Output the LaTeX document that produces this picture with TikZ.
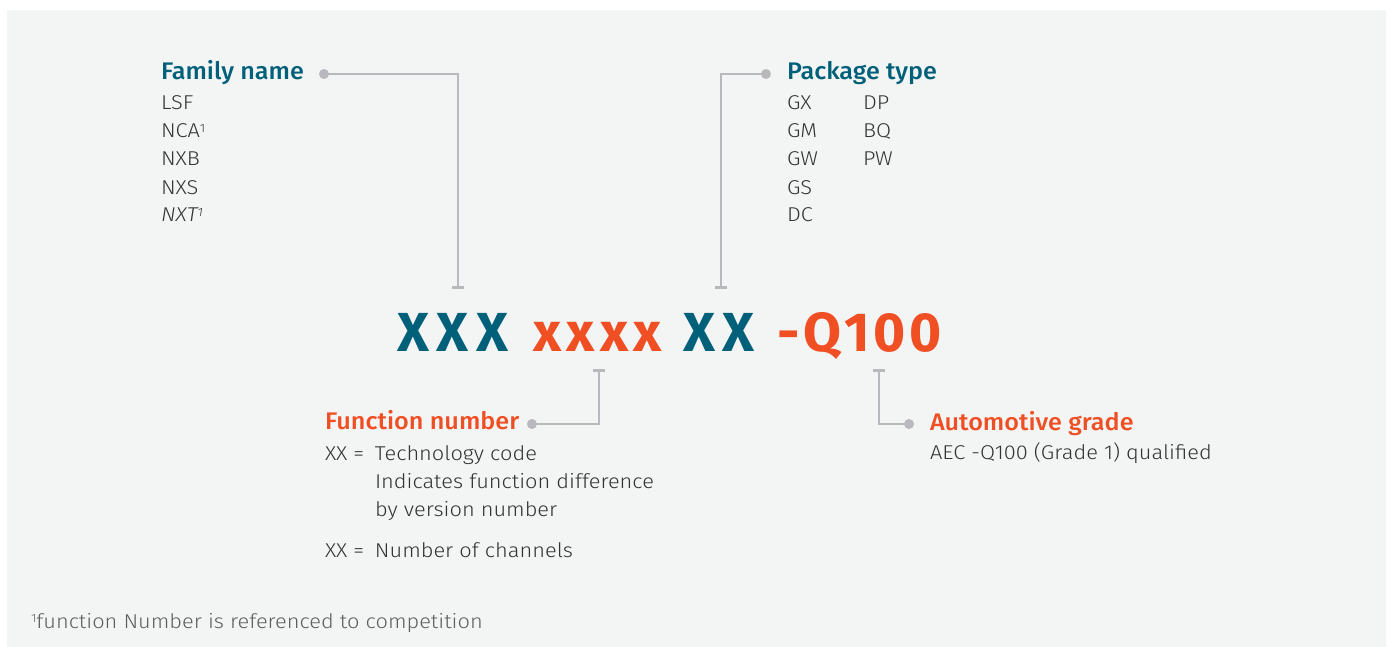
\documentclass[tikz,border=0pt]{standalone}
\usepackage{fontspec}
\setmainfont{Fira Sans Light}[ItalicFont={Fira Sans Light Italic}, BoldFont={Fira Sans Medium}, FakeStretch=1.09]
\newfontfamily\headfont{Fira Sans Medium}[FakeStretch=1.05]
\newfontfamily\codefont{Fira Sans Bold}[LetterSpace=14]
\newfontfamily\codefontsm{Fira Sans Bold}[LetterSpace=10]
\newfontfamily\codefontq{Fira Sans Bold}[LetterSpace=7]
\usetikzlibrary{arrows.meta}
\definecolor{ntteal}{HTML}{00607A}
\definecolor{ntorange}{HTML}{F04E23}
\definecolor{linegray}{HTML}{B9B8BC}
\definecolor{panelbg}{HTML}{F3F4F4}
\definecolor{bodytext}{HTML}{333333}
\definecolor{notetext}{HTML}{5E5E5E}
\newcommand{\supone}{\raisebox{5.5pt}{\fontsize{12}{12}\selectfont 1}}
\tikzset{
  txt/.style={anchor=base west, inner sep=0pt, outer sep=0pt},
  body/.style={txt, text=bodytext, font=\fontsize{20}{24}\selectfont},
  headteal/.style={txt, text=ntteal, font=\headfont\fontsize{24}{28}\selectfont},
  headorange/.style={txt, text=ntorange, font=\headfont\fontsize{24}{28}\selectfont},
  codeteal/.style={txt, text=ntteal, font=\codefont\fontsize{55}{60}\selectfont},
  codeorangesm/.style={txt, text=ntorange, font=\codefontsm\fontsize{55}{60}\selectfont},
  codeorangeq/.style={txt, text=ntorange, font=\codefontq\fontsize{55}{60}\selectfont},
  dot/.style={circle, fill=linegray, minimum size=10pt, inner sep=0pt},
  conn/.style={draw=linegray, line width=2.6pt},
  tick/.style={-{Bar[width=12pt]}},
  note/.style={txt, text=notetext, font=\fontsize{20}{24}\selectfont},
}
\begin{document}
\begin{tikzpicture}[x=1pt, y=-1pt]
\useasboundingbox (0,0) rectangle (1391,647);
\fill[panelbg] (7,10) rectangle (1386,647);

% main code
\node[codeteal] (c1) at (397,351) {XXX};
\node[codeorangesm] (c2) at (533,351) {xxxx};
\node[codeteal] (c3) at (683,351) {XX};
\node[codeorangeq] (c4) at (777,351) {-Q100};

% family name
\node[headteal] (fam) at (161,80) {Family name};
\foreach \t [count=\i from 0] in {LSF, NCA\supone, NXB, NXS, \textit{NXT\supone}}
  \node[body] (fam\i) at (161,{110+28*\i}) {\t};
\node[dot] (dfam) at (324,74) {};
\coordinate (tfam) at (458,289);
\draw[conn, tick] (dfam.center) -| (tfam);

% package type
\node[headteal] (pkg) at (787,80) {Package type};
\foreach \t [count=\i from 0] in {GX, GM, GW, GS, DC}
  \node[body] (pa\i) at (787,{110+28*\i}) {\t};
\foreach \t [count=\i from 0] in {DP, BQ, PW}
  \node[body] (pb\i) at (863,{110+28*\i}) {\t};
\node[dot] (dpkg) at (766,74) {};
\coordinate (tpkg) at (721,289);
\draw[conn, tick] (dpkg.center) -| (tpkg);

% function number
\node[headorange] (fn) at (325,429) {Function number};
\node[body] (fn1) at (325,460) {\makebox[50pt][l]{XX =}Technology code};
\node[body] (fn2) at (375,488) {Indicates function difference};
\node[body] (fn3) at (375,516) {by version number};
\node[body] (fn4) at (325,557) {\makebox[50pt][l]{XX =}Number of channels};
\node[dot] (dfn) at (532,424) {};
\coordinate (tfn) at (599,369);
\draw[conn, tick] (dfn.center) -| (tfn);

% automotive grade
\node[headorange] (ag) at (930,430) {Automotive grade};
\node[body] (ag1) at (930,459) {AEC -Q100 (Grade 1) qualified};
\node[dot] (dag) at (909,424) {};
\coordinate (tag) at (879,369);
\draw[conn, tick] (dag.center) -| (tag);

% footnote
\node[note] (fnote) at (31,628) {\supone function Number is referenced to competition};
\end{tikzpicture}
\end{document}
